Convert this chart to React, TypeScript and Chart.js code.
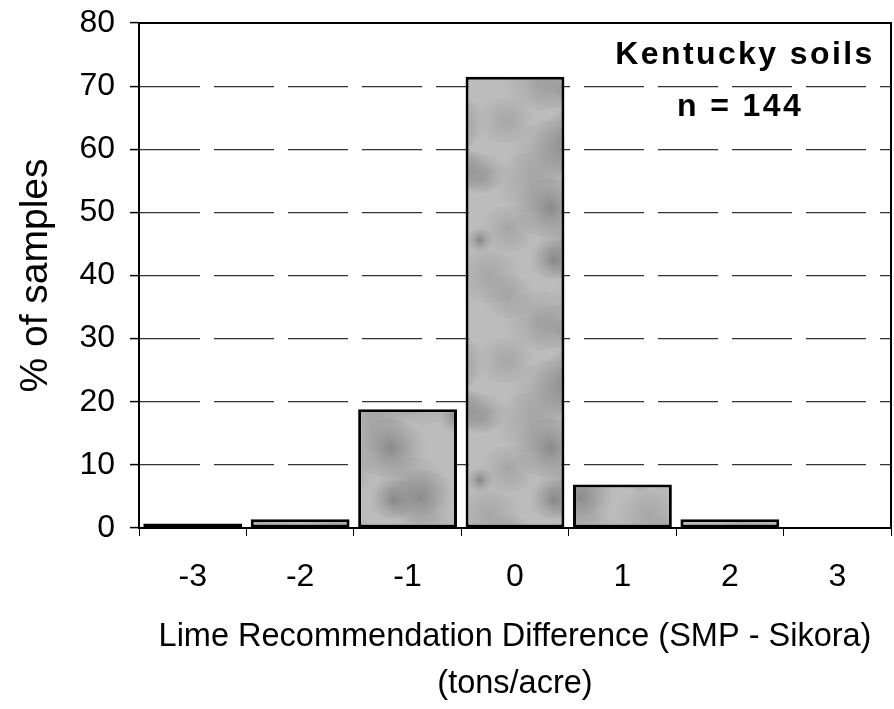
import React, { useEffect, useRef } from "react";
import { Chart, registerables } from "chart.js";

Chart.register(...registerables);

const categories = ["-3", "-2", "-1", "0", "1", "2", "3"];
const percentSamples = [0.7, 1.4, 18.8, 71.5, 6.9, 1.4, 0];
const yMin = 0;
const yMax = 80;
const yStep = 10;
const yAxisTitle = "% of samples";
const xAxisTitle = ["Lime Recommendation Difference (SMP - Sikora)", "(tons/acre)"];
const annotationLines = ["Kentucky soils", "n = 144"];

const FONT = "'Liberation Sans', Arial, Helvetica, sans-serif";

function makeMottledPattern(ctx: CanvasRenderingContext2D): CanvasPattern | string {
  const c = document.createElement("canvas");
  c.width = 160;
  c.height = 240;
  const g = c.getContext("2d");
  if (!g) return "#adadad";
  g.fillStyle = "#bcbcbc";
  g.fillRect(0, 0, c.width, c.height);
  // deterministic soft blotches for a stone-like texture
  for (let i = 0; i < 26; i++) {
    const h1 = Math.abs(Math.sin(i * 12.9898) * 43758.5453) % 1;
    const h2 = Math.abs(Math.sin(i * 78.233) * 12345.6789) % 1;
    const h3 = Math.abs(Math.sin(i * 37.719) * 9876.54321) % 1;
    const x = h1 * c.width;
    const y = h2 * c.height;
    const r = 14 + h3 * 26;
    for (const dx of [-c.width, 0, c.width]) {
      for (const dy of [-c.height, 0, c.height]) {
        const grad = g.createRadialGradient(x + dx, y + dy, 0, x + dx, y + dy, r);
        const dark = i % 3 === 0;
        grad.addColorStop(0, dark ? "rgba(115,115,115,0.7)" : "rgba(145,145,145,0.5)");
        grad.addColorStop(1, "rgba(145,145,145,0)");
        g.fillStyle = grad;
        g.beginPath();
        g.ellipse(x + dx, y + dy, r, r * 0.8, 0, 0, Math.PI * 2);
        g.fill();
      }
    }
  }
  const p = ctx.createPattern(c, "repeat");
  return p || "#adadad";
}

export default function App() {
  const ref = useRef<HTMLCanvasElement | null>(null);

  useEffect(() => {
    if (!ref.current) return;
    const ctx0 = ref.current.getContext("2d") as CanvasRenderingContext2D;
    const barFill = makeMottledPattern(ctx0);

    const frame = {
      id: "frame",
      afterDatasetsDraw(chart: any) {
        const { ctx, chartArea: a } = chart;
        ctx.save();
        ctx.strokeStyle = "#000";
        ctx.lineWidth = 2;
        ctx.strokeRect(a.left, a.top, a.right - a.left, a.bottom - a.top);
        ctx.restore();
      },
    };

    const note = {
      id: "note",
      afterDraw(chart: any) {
        const { ctx, chartArea: a } = chart;
        ctx.save();
        ctx.fillStyle = "#000";
        ctx.font = `bold 32px ${FONT}`;
        (ctx as any).letterSpacing = "2.4px";
        ctx.textAlign = "center";
        ctx.textBaseline = "alphabetic";
        ctx.fillText(annotationLines[0], a.right - 146, a.top + 41);
        ctx.fillText(annotationLines[1], a.right - 151, a.top + 93);
        ctx.restore();
      },
    };

    const chart = new Chart(ref.current, {
      type: "bar",
      data: {
        labels: categories,
        datasets: [
          {
            data: percentSamples,
            backgroundColor: barFill,
            borderColor: "#000",
            borderWidth: 3,
            borderSkipped: false,
            barPercentage: 0.92,
            categoryPercentage: 1,
          },
        ],
      },
      options: {
        responsive: false,
        animation: false,
        layout: { padding: { top: 23, right: 3, left: 0, bottom: 0 } },
        plugins: {
          legend: { display: false },
          tooltip: { enabled: false },
        },
        scales: {
          x: {
            offset: true,
            grid: {
              offset: true,
              drawOnChartArea: false,
              drawTicks: true,
              tickLength: 8,
              tickColor: "#000",
              tickWidth: 1,
            },
            border: { display: true, color: "#000", width: 2 },
            ticks: {
              color: "#000",
              font: { family: FONT, size: 32 },
              padding: 22,
              maxRotation: 0,
            },
            title: {
              display: true,
              text: xAxisTitle,
              color: "#000",
              font: { family: FONT, size: 32.5, lineHeight: 1.44 },
              padding: { top: 0, bottom: 2 },
            },
            afterFit(scale: any) {
              scale.height = 709 - 528;
              scale.paddingLeft = 0;
              scale.paddingRight = 0;
            },
          },
          y: {
            min: yMin,
            max: yMax,
            ticks: {
              stepSize: yStep,
              color: "#000",
              font: { family: FONT, size: 32 },
              padding: 15,
            },
            grid: {
              color: "#333",
              lineWidth: 1.2,
              drawTicks: true,
              tickLength: 9,
              tickColor: "#000",
              tickWidth: 1.5,
              tickBorderDash: [],
            },
            border: { display: true, color: "#000", width: 2, dash: [60, 14] },
            title: {
              display: true,
              text: yAxisTitle,
              color: "#000",
              font: { family: FONT, size: 39, lineHeight: 1.2 },
              padding: { top: 13, bottom: 0 },
            },
            afterFit(scale: any) {
              scale.width = 139;
              scale.paddingTop = 0;
              scale.paddingBottom = 0;
            },
          },
        },
      },
      plugins: [frame, note],
    } as any);

    return () => chart.destroy();
  }, []);

  return (
    <div style={{ position: "fixed", left: 0, top: 0, width: 894, height: 709, background: "#fff" }}>
      <canvas ref={ref} width={894} height={709} style={{ display: "block" }} />
    </div>
  );
}
